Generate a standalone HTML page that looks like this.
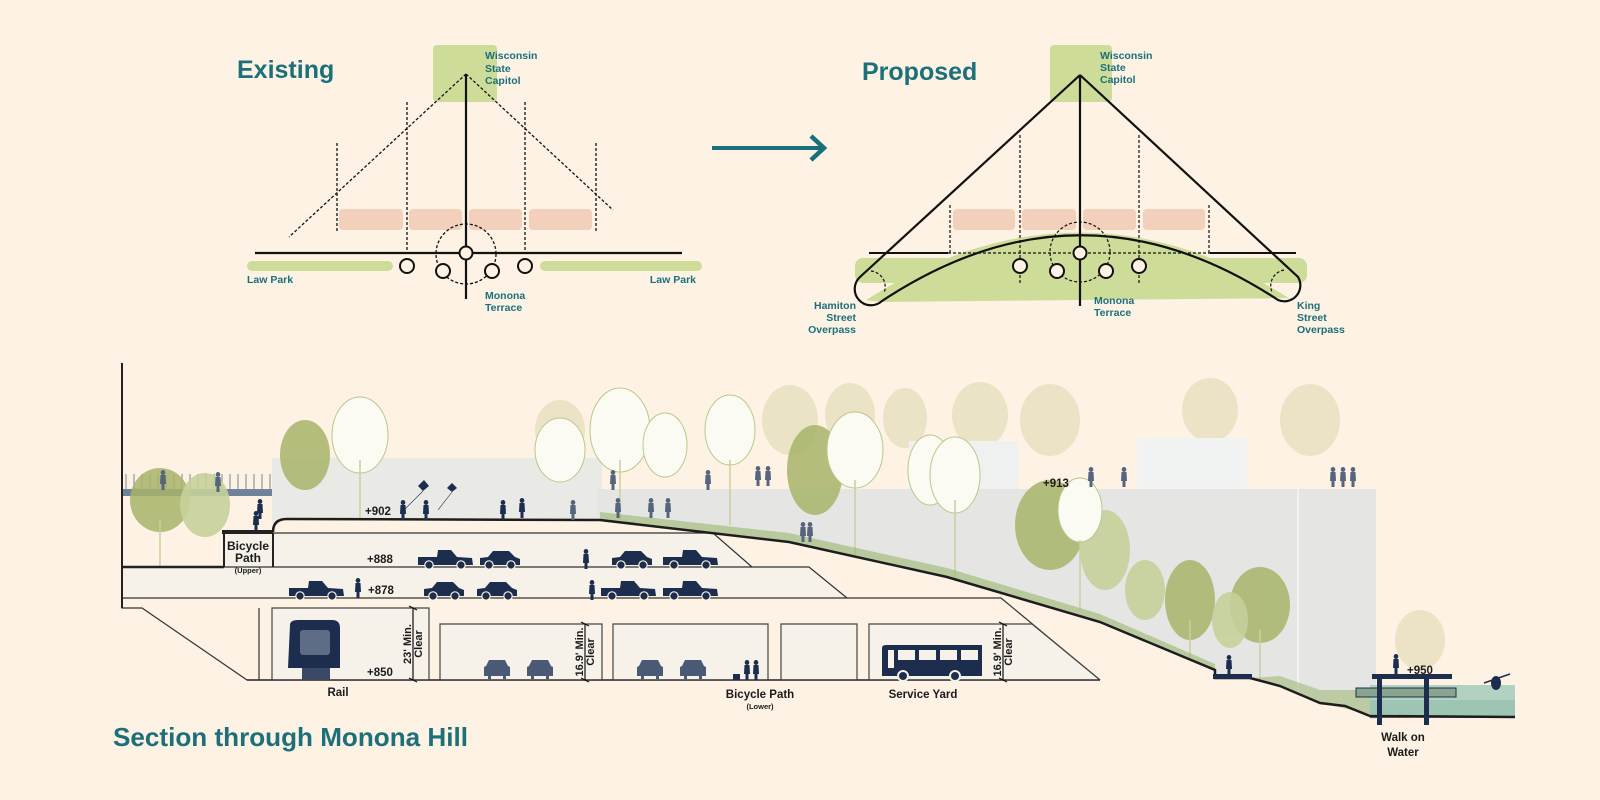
<!DOCTYPE html>
<html><head><meta charset="utf-8"><style>
html,body{margin:0;padding:0;background:#fdf2e3;}
svg{display:block;}
.t{font-family:"Liberation Sans",sans-serif;font-weight:bold;fill:#1d6f79;}
.s{font-family:"Liberation Sans",sans-serif;font-weight:bold;fill:#1b1b1b;}
</style></head><body>
<svg width="1600" height="800" viewBox="0 0 1600 800" xmlns="http://www.w3.org/2000/svg">
<defs>
<g id="car"><path d="M2 9 L10 8 L15 2 L31 2 L37 8 L42 10 L42 16 L2 16 Z" fill="#1c2d4d"/><circle cx="11" cy="16" r="4.2" fill="#1c2d4d" stroke="#fdf2e3" stroke-width="1.2"/><circle cx="33" cy="16" r="4.2" fill="#1c2d4d" stroke="#fdf2e3" stroke-width="1.2"/></g>
<g id="pick"><path d="M1 8 L20 8 L21 1 L34 1 L40 8 L55 9 L56 16 L1 16 Z" fill="#1c2d4d"/><circle cx="12" cy="16" r="4.2" fill="#1c2d4d" stroke="#fdf2e3" stroke-width="1.2"/><circle cx="44" cy="16" r="4.2" fill="#1c2d4d" stroke="#fdf2e3" stroke-width="1.2"/></g>
<g id="fc"><path d="M2 6 L5 0 L21 0 L24 6 L26 7 L26 16 L22 16 L22 19 L19 19 L19 16 L7 16 L7 19 L4 19 L4 16 L0 16 L0 7 Z" fill="#4a5a76"/></g>
<g id="p"><ellipse cx="3" cy="2.5" rx="2.3" ry="2.5" fill="#1c2d4d"/><path d="M0.5 5 L5.5 5 L6 14 L4.5 14 L4.5 20 L1.5 20 L1.5 14 L0 14 Z" fill="#1c2d4d"/></g>
<g id="pg"><ellipse cx="3" cy="2.5" rx="2.3" ry="2.5" fill="#56647e"/><path d="M0.5 5 L5.5 5 L6 14 L4.5 14 L4.5 20 L1.5 20 L1.5 14 L0 14 Z" fill="#56647e"/></g>
</defs>

<!-- ========== TOP: EXISTING ========== -->
<text x="237" y="78" class="t" font-size="25">Existing</text>
<rect x="433" y="45" width="64" height="57" rx="4" fill="#cddc98"/>
<text class="t" font-size="10.5"><tspan x="485" y="59">Wisconsin</tspan><tspan x="485" y="72">State</tspan><tspan x="485" y="84">Capitol</tspan></text>
<rect x="339" y="209" width="64" height="21" rx="4" fill="#f3d0bb"/>
<rect x="409" y="209" width="53" height="21" rx="4" fill="#f3d0bb"/>
<rect x="469" y="209" width="53" height="21" rx="4" fill="#f3d0bb"/>
<rect x="529" y="209" width="63" height="21" rx="4" fill="#f3d0bb"/>
<g stroke="#111" stroke-width="1.3" stroke-dasharray="3,2" fill="none">
<line x1="466" y1="74" x2="289" y2="237"/><line x1="466" y1="74" x2="613" y2="210"/>
<line x1="337" y1="143" x2="337" y2="231"/><line x1="407" y1="102" x2="407" y2="253"/>
<line x1="525" y1="102" x2="525" y2="253"/><line x1="596" y1="143" x2="596" y2="231"/>
<circle cx="466" cy="254" r="30"/>
</g>
<line x1="255" y1="253" x2="682" y2="253" stroke="#111" stroke-width="2.2"/>
<line x1="466" y1="74" x2="466" y2="299" stroke="#111" stroke-width="2.2"/>
<rect x="247" y="261" width="146" height="10" rx="5" fill="#cddc98"/>
<rect x="540" y="261" width="162" height="10" rx="5" fill="#cddc98"/>
<g fill="#fdf2e3" stroke="#111" stroke-width="2">
<circle cx="466" cy="253" r="6.5"/><circle cx="407" cy="266" r="7"/><circle cx="443" cy="271" r="7"/><circle cx="492" cy="271" r="7"/><circle cx="525" cy="266" r="7"/>
</g>
<text x="247" y="283" class="t" font-size="10.5">Law Park</text>
<text x="696" y="283" class="t" font-size="10.5" text-anchor="end">Law Park</text>
<text class="t" font-size="10.5"><tspan x="485" y="299">Monona</tspan><tspan x="485" y="311">Terrace</tspan></text>

<!-- arrow -->
<line x1="712" y1="148" x2="822" y2="148" stroke="#17707a" stroke-width="4"/>
<polyline points="811,136 824,148 811,160" fill="none" stroke="#17707a" stroke-width="4.5"/>

<!-- ========== TOP: PROPOSED ========== -->
<text x="862" y="80" class="t" font-size="25">Proposed</text>
<rect x="1050" y="45" width="62" height="57" rx="4" fill="#cddc98"/>
<text class="t" font-size="10.5"><tspan x="1100" y="59">Wisconsin</tspan><tspan x="1100" y="71">State</tspan><tspan x="1100" y="83">Capitol</tspan></text>
<rect x="953" y="209" width="62" height="21" rx="4" fill="#f3d0bb"/>
<rect x="1022" y="209" width="54" height="21" rx="4" fill="#f3d0bb"/>
<rect x="1083" y="209" width="53" height="21" rx="4" fill="#f3d0bb"/>
<rect x="1143" y="209" width="62" height="21" rx="4" fill="#f3d0bb"/>
<rect x="855" y="258" width="452" height="25" rx="8" fill="#cddc98"/>
<path d="M866 300 Q1080 165 1292 300 L1292 298 L880 302 Z" fill="#cddc98"/>
<g stroke="#111" stroke-width="1.2" stroke-dasharray="3,2" fill="none">
<line x1="950" y1="205" x2="950" y2="253"/><line x1="1020" y1="135" x2="1020" y2="285"/>
<line x1="1139" y1="135" x2="1139" y2="285"/><line x1="1209" y1="205" x2="1209" y2="253"/>
<line x1="948" y1="253" x2="1210" y2="253"/>
<circle cx="1080" cy="252" r="30"/>
<path d="M871 271 A16 16 0 0 1 884 293"/><path d="M1284 270 A16 16 0 0 0 1272 292"/>
</g>
<line x1="869" y1="253" x2="948" y2="253" stroke="#111" stroke-width="2"/>
<line x1="1210" y1="253" x2="1296" y2="253" stroke="#111" stroke-width="2"/>
<g stroke="#111" stroke-width="2.2" fill="none">
<line x1="1080" y1="75" x2="1080" y2="306"/>
<path d="M1080 75 L860 277 A16 16 0 0 0 882 301 Q1080 170 1278 300 A16 16 0 0 0 1298 277 L1080 75"/>
</g>
<g fill="#fdf2e3" stroke="#111" stroke-width="2">
<circle cx="1080" cy="253" r="6.5"/><circle cx="1020" cy="266" r="7"/><circle cx="1057" cy="271" r="7"/><circle cx="1106" cy="271" r="7"/><circle cx="1139" cy="266" r="7"/>
</g>
<text class="t" font-size="10.5"><tspan x="1094" y="304">Monona</tspan><tspan x="1094" y="316">Terrace</tspan></text>
<text class="t" font-size="10.5" text-anchor="end"><tspan x="856" y="309">Hamiton</tspan><tspan x="856" y="321">Street</tspan><tspan x="856" y="333">Overpass</tspan></text>
<text class="t" font-size="10.5"><tspan x="1297" y="309">King</tspan><tspan x="1297" y="321">Street</tspan><tspan x="1297" y="333">Overpass</tspan></text>

<!-- ========== SECTION ========== -->
<g fill="#e9e1c2" opacity="0.85">
<ellipse cx="790" cy="420" rx="28" ry="35"/><ellipse cx="850" cy="415" rx="25" ry="32"/><ellipse cx="905" cy="418" rx="22" ry="30"/>
<ellipse cx="980" cy="415" rx="28" ry="33"/><ellipse cx="1050" cy="420" rx="30" ry="36"/><ellipse cx="1210" cy="410" rx="28" ry="32"/>
<ellipse cx="1310" cy="420" rx="30" ry="36"/><ellipse cx="1420" cy="640" rx="25" ry="30"/><ellipse cx="560" cy="430" rx="25" ry="30"/>
</g>
<rect x="272" y="458" width="330" height="65" fill="#e9e9e6"/>
<rect x="909" y="441" width="109" height="50" fill="#eff0f0"/>
<rect x="1137" y="438" width="110" height="53" fill="#f1f2f2"/>
<rect x="597" y="489" width="779" height="230" fill="#e5e6e4"/>
<line x1="1298" y1="489" x2="1298" y2="700" stroke="#f6f6f6" stroke-width="1.5"/>
<g stroke="#8d97a7" stroke-width="1.2">
<line x1="126" y1="474" x2="126" y2="490"/><line x1="134" y1="474" x2="134" y2="490"/><line x1="142" y1="474" x2="142" y2="490"/><line x1="150" y1="474" x2="150" y2="490"/><line x1="158" y1="474" x2="158" y2="490"/><line x1="166" y1="474" x2="166" y2="490"/><line x1="174" y1="474" x2="174" y2="490"/><line x1="182" y1="474" x2="182" y2="490"/><line x1="190" y1="474" x2="190" y2="490"/><line x1="198" y1="474" x2="198" y2="490"/><line x1="206" y1="474" x2="206" y2="490"/><line x1="214" y1="474" x2="214" y2="490"/><line x1="222" y1="474" x2="222" y2="490"/><line x1="230" y1="474" x2="230" y2="490"/><line x1="238" y1="474" x2="238" y2="490"/><line x1="246" y1="474" x2="246" y2="490"/><line x1="254" y1="474" x2="254" y2="490"/><line x1="262" y1="474" x2="262" y2="490"/><line x1="270" y1="474" x2="270" y2="490"/>
</g>
<rect x="122" y="489" width="150" height="7" fill="#6f8299"/>

<g fill="#a7b46a" opacity="0.85">
<ellipse cx="160" cy="500" rx="30" ry="32"/><ellipse cx="305" cy="455" rx="25" ry="35"/><ellipse cx="815" cy="470" rx="28" ry="45"/>
<ellipse cx="1050" cy="525" rx="35" ry="45"/><ellipse cx="1190" cy="600" rx="25" ry="40"/><ellipse cx="1260" cy="605" rx="30" ry="38"/>
</g>
<g fill="#c6d09a" opacity="0.9">
<ellipse cx="205" cy="505" rx="25" ry="32"/><ellipse cx="1105" cy="550" rx="25" ry="40"/><ellipse cx="1145" cy="590" rx="20" ry="30"/><ellipse cx="1230" cy="620" rx="18" ry="28"/>
</g>
<g fill="#fbfbf3" stroke="#b9c78a" stroke-width="1">
<ellipse cx="360" cy="435" rx="28" ry="38"/><ellipse cx="560" cy="450" rx="25" ry="32"/><ellipse cx="620" cy="430" rx="30" ry="42"/>
<ellipse cx="665" cy="445" rx="22" ry="32"/><ellipse cx="730" cy="430" rx="25" ry="35"/><ellipse cx="855" cy="450" rx="28" ry="38"/>
<ellipse cx="930" cy="470" rx="22" ry="35"/><ellipse cx="955" cy="475" rx="25" ry="38"/><ellipse cx="1080" cy="510" rx="22" ry="32"/>
</g>
<g stroke="#c9cf9f" stroke-width="1.5">
<line x1="360" y1="460" x2="360" y2="519"/><line x1="620" y1="460" x2="620" y2="520"/><line x1="730" y1="460" x2="730" y2="525"/>
<line x1="855" y1="480" x2="855" y2="555"/><line x1="955" y1="500" x2="955" y2="580"/><line x1="1080" y1="540" x2="1080" y2="610"/>
<line x1="1190" y1="620" x2="1190" y2="665"/><line x1="1260" y1="630" x2="1260" y2="680"/><line x1="160" y1="520" x2="160" y2="567"/>
</g>

<!-- earth fill (same as background) -->
<path d="M273 530 Q273 519 285 519 L600 520 L789 542 L947 577 L1100 622 L1215 670 L1215 678 L1250 678 L1280 686 L1320 703 L1345 706 L1370 716 L1370 800 L110 800 L110 608 L122 608 Z" fill="#fdf2e3"/>
<rect x="122" y="567" width="102" height="31" fill="#fbf3e7"/>
<path d="M600 520 L789 542 L947 577 L1100 622 L1215 670 L1215 664 L1100 614 L947 568 L789 533 L600 512 Z" fill="#9bb56f" opacity="0.6"/>
<path d="M1250 678 L1280 686 L1320 703 L1370 714 L1370 690 L1320 690 L1280 676 Z" fill="#9bb56f" opacity="0.55"/>
<rect x="1370" y="685" width="145" height="32" fill="#b3d1c1"/>
<rect x="1370" y="700" width="145" height="17" fill="#9ec4b3"/>
<line x1="1370" y1="717" x2="1515" y2="717" stroke="#222" stroke-width="1.5"/>

<path d="M273 533 L713 533 L752 567 L273 567 Z" fill="#f6f2ea"/>
<path d="M122 567 L809 567 L847 598 L122 598 Z" fill="#f6f2ea"/>
<path d="M224 567 L224 533 L273 533 L273 567 Z" fill="#f6f2ea"/>
<g stroke="#333" stroke-width="1.2" fill="none">
<polyline points="273,533 713,533 752,567"/>
<polyline points="224,567 809,567 847,598"/>
<polyline points="122,598 1001,598 1100,680"/>
<polyline points="122,598 122,608 142,608 247,680 1100,680"/>
<line x1="259" y1="608" x2="259" y2="680"/>
</g>
<g fill="#f6f2ea" stroke="#444" stroke-width="1.2">
<path d="M272 680 L272 608 L429 608 L429 680"/>
<path d="M440 680 L440 624 L602 624 L602 680"/>
<path d="M613 680 L613 624 L768 624 L768 680"/>
<path d="M781 680 L781 624 L857 624 L857 680"/>
<path d="M869 680 L869 624 L1032 624 L1100 680"/>
</g>
<line x1="247" y1="680" x2="1100" y2="680" stroke="#333" stroke-width="1.5"/>
<line x1="122" y1="363" x2="122" y2="608" stroke="#222" stroke-width="2"/>
<line x1="122" y1="567" x2="224" y2="567" stroke="#222" stroke-width="2.5"/>
<rect x="222" y="530" width="51" height="4" fill="#222"/>
<line x1="224" y1="533" x2="224" y2="567" stroke="#222" stroke-width="2"/>
<line x1="273" y1="533" x2="273" y2="567" stroke="#222" stroke-width="2"/>
<path d="M273 532 Q273 519 287 519 L600 520 L789 542 L947 577 L1100 622 L1215 670 L1215 678 L1250 678 L1280 686 L1320 703 L1345 706 L1370 716 L1515 717" fill="none" stroke="#1d1d1d" stroke-width="2.5"/>
<rect x="1213" y="674" width="39" height="5" fill="#1c2d4d"/>

<rect x="1356" y="688" width="100" height="9" fill="#8aa58f" stroke="#1c2d4d" stroke-width="1"/>
<rect x="1372" y="674" width="80" height="5" fill="#1c2d4d"/>
<rect x="1377" y="674" width="5" height="51" fill="#1c2d4d"/>
<rect x="1424" y="674" width="5" height="51" fill="#1c2d4d"/>
<use href="#p" x="1393" y="654"/>
<ellipse cx="1496" cy="683" rx="5" ry="7" fill="#1c2d4d"/>
<line x1="1484" y1="683" x2="1510" y2="674" stroke="#1c2d4d" stroke-width="1.5"/>

<use href="#pick" x="417" y="549"/><use href="#car" x="478" y="549"/>
<use href="#car" x="610" y="549"/><use href="#pick" x="662" y="549"/>
<use href="#pick" x="288" y="580"/><use href="#car" x="422" y="580"/><use href="#car" x="475" y="580"/>
<use href="#pick" x="600" y="580"/><use href="#pick" x="662" y="580"/>
<use href="#fc" x="484" y="660"/><use href="#fc" x="527" y="660"/>
<use href="#fc" x="637" y="660"/><use href="#fc" x="680" y="660"/>
<path d="M290 625 Q290 620 298 620 L332 620 Q340 620 340 628 L340 668 L288 668 Z" fill="#1c2d4d"/>
<rect x="300" y="630" width="30" height="25" rx="3" fill="#5e6c86"/>
<rect x="302" y="668" width="28" height="12" fill="#3b4966"/>
<path d="M882 648 Q882 645 886 645 L982 645 L982 676 L882 676 Z" fill="#1c2d4d"/>
<g fill="#f6f2ea"><rect x="888" y="650" width="6" height="18"/><rect x="898" y="650" width="17" height="10"/><rect x="919" y="650" width="17" height="10"/><rect x="940" y="650" width="17" height="10"/><rect x="961" y="650" width="17" height="10"/></g>
<circle cx="903" cy="676" r="5" fill="#1c2d4d" stroke="#f6f2ea" stroke-width="2"/><circle cx="955" cy="676" r="5" fill="#1c2d4d" stroke="#f6f2ea" stroke-width="2"/>
<use href="#p" x="355" y="578"/><use href="#p" x="583" y="549"/><use href="#p" x="589" y="580"/>
<use href="#p" x="744" y="660"/><use href="#p" x="753" y="660"/><rect x="733" y="674" width="7" height="6" fill="#1c2d4d"/>
<use href="#p" x="253" y="511"/><use href="#p" x="257" y="499"/>
<use href="#p" x="400" y="500"/><use href="#p" x="423" y="500"/><use href="#p" x="500" y="500"/><use href="#p" x="519" y="498"/>
<use href="#pg" x="160" y="470"/><use href="#pg" x="215" y="472"/>
<use href="#pg" x="610" y="470"/><use href="#pg" x="705" y="470"/><use href="#pg" x="755" y="466"/><use href="#pg" x="765" y="466"/>
<use href="#pg" x="615" y="498"/><use href="#pg" x="648" y="498"/><use href="#pg" x="665" y="498"/><use href="#pg" x="570" y="500"/>
<use href="#pg" x="800" y="522"/><use href="#pg" x="807" y="522"/>
<use href="#pg" x="1088" y="467"/><use href="#pg" x="1121" y="467"/>
<use href="#pg" x="1330" y="467"/><use href="#pg" x="1340" y="467"/><use href="#pg" x="1350" y="467"/>
<use href="#p" x="1226" y="655"/>
<path d="M418 486 l6 -6 l5 6 l-6 5 z" fill="#1c2d4d"/><line x1="423" y1="491" x2="404" y2="510" stroke="#1c2d4d" stroke-width="0.6"/>
<path d="M447 488 l5 -5 l5 5 l-5 4 z" fill="#1c2d4d"/><line x1="452" y1="492" x2="438" y2="510" stroke="#1c2d4d" stroke-width="0.6"/>

<g class="s" font-size="11.5">
<text x="365" y="515">+902</text><text x="367" y="563">+888</text><text x="368" y="594">+878</text>
<text x="367" y="676">+850</text><text x="1043" y="487">+913</text><text x="1407" y="674">+950</text>
</g>
<text class="s" font-size="12" text-anchor="middle"><tspan x="248" y="550">Bicycle</tspan><tspan x="248" y="562">Path</tspan></text>
<text x="248" y="573" class="s" font-size="7.5" text-anchor="middle">(Upper)</text>

<g stroke="#111" stroke-width="1.2">
<line x1="413" y1="608" x2="413" y2="680"/><line x1="409" y1="606" x2="417" y2="610"/><line x1="409" y1="678" x2="417" y2="682"/>
<line x1="585" y1="624" x2="585" y2="680"/><line x1="581" y1="622" x2="589" y2="626"/><line x1="581" y1="678" x2="589" y2="682"/>
<line x1="1003" y1="624" x2="1003" y2="680"/><line x1="999" y1="622" x2="1007" y2="626"/><line x1="999" y1="678" x2="1007" y2="682"/>
</g>
<g class="s" font-size="11" text-anchor="middle">
<text transform="translate(411,644) rotate(-90)">23' Min.</text><text transform="translate(422,644) rotate(-90)">Clear</text>
<text transform="translate(583,652) rotate(-90)">16.9' Min.</text><text transform="translate(594,652) rotate(-90)">Clear</text>
<text transform="translate(1001,652) rotate(-90)">16.9' Min.</text><text transform="translate(1012,652) rotate(-90)">Clear</text>
</g>

<g class="s" font-size="11.5" text-anchor="middle">
<text x="338" y="696">Rail</text><text x="760" y="698">Bicycle Path</text><text x="923" y="698">Service Yard</text>
<text x="1403" y="741">Walk on</text><text x="1403" y="756">Water</text>
</g>
<text x="760" y="709" class="s" font-size="7.5" text-anchor="middle">(Lower)</text>

<text x="113" y="746" class="t" font-size="26" textLength="355" lengthAdjust="spacingAndGlyphs">Section through Monona Hill</text>
</svg>
</body></html>
